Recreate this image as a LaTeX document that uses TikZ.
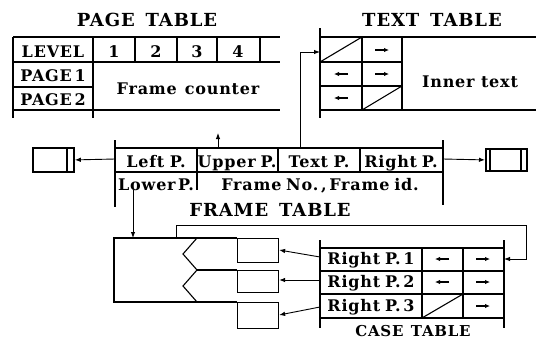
\documentclass[tikz,border=0pt]{standalone}
\usepackage{fontspec}
\setmainfont{DejaVu Serif}[LetterSpace=5]
\usetikzlibrary{arrows.meta}
\begin{document}
\begin{tikzpicture}[x=1pt,y=-1pt,
  tl/.style={line width=1.1pt},
  bl/.style={line width=2pt},
  cell/.style={font=\bfseries\fontsize{16}{16}\selectfont, inner sep=0pt, anchor=base},
  ttl/.style={font=\bfseries\fontsize{18}{18}\selectfont, inner sep=0pt, anchor=base},
  conn/.style={line width=0.9pt,-{Latex[length=6pt,width=4.5pt]}},
  carr/.style={line width=1.2pt,-{Latex[length=5pt,width=4.5pt]}},
  sbox/.style={draw,line width=1.8pt,minimum width=41pt,minimum height=23pt,inner sep=0pt,anchor=north west},
  cbox/.style={draw,line width=1.1pt,minimum width=41pt,inner sep=0pt,anchor=north west}
]
\useasboundingbox (0,0) rectangle (536,341);

% ---------------- PAGE TABLE
\node[ttl] (ptitle) at (147,26) {PAGE\hspace{0.6em}TABLE};
\draw[bl] (13,37) -- (13,118);
\draw[tl] (13,37) -- (280,37) (13,62) -- (280,62) (13,87) -- (93,87) (13,110) -- (280,110);
\draw[tl] (93,37) -- (93,118);
\foreach \x in {135,177,217,260} \draw[tl] (\x,37) -- (\x,62);
\node[cell] (level) at (53,57) {LEVEL};
\node[cell] (l1) at (114,57) {1};
\node[cell] (l2) at (156,57) {2};
\node[cell] (l3) at (197,57) {3};
\node[cell] (l4) at (238,57) {4};
\node[cell] (page1) at (53,81) {PAGE\,1};
\node[cell] (page2) at (53,105) {PAGE\,2};
\node[cell] (fcount) at (188,94) {Frame\hspace{0.5em}counter};

% ---------------- TEXT TABLE
\node[ttl] (ttitle) at (432,26) {TEXT\hspace{0.6em}TABLE};
\draw[bl] (320,28) -- (320,118);
\draw[tl] (320,37) -- (536,37) (320,110) -- (536,110);
\draw[tl] (320,62) -- (402,62) (320,86) -- (402,86);
\draw[tl] (362,37) -- (362,110) (402,37) -- (402,110);
\draw[tl] (320,62) -- (362,37);
\draw[tl] (362,110) -- (402,86);
\draw[carr] (375,50) -- (389,50);
\draw[carr] (348,74) -- (334,74);
\draw[carr] (375,74) -- (389,74);
\draw[carr] (348,98) -- (334,98);
\node[cell] (inner) at (470,87) {Inner\hspace{0.4em}text};
\coordinate (ttin) at (320,52);

% ---------------- FRAME TABLE
\draw[bl] (115,140) -- (115,207);
\draw[bl] (443,140) -- (443,205);
\draw[tl] (115,148) -- (443,148) (115,172) -- (443,172);
\draw[tl] (197,148) -- (197,190);
\draw[tl] (278,148) -- (278,172) (360,148) -- (360,172);
\node[cell] (leftP) at (156,167) {Left\hspace{0.35em}P.};
\node[cell] (upperP) at (237,167) {Upper\hspace{0.3em}P.};
\node[cell] (textP) at (319,167) {Text\hspace{0.35em}P.};
\node[cell] (rightP) at (401,167) {Right\hspace{0.3em}P.};
\node[cell] (lowerP) at (156,190) {Lower\hspace{0.15em}P.};
\node[cell] (frameno) at (320,190) {Frame\hspace{0.3em}No.\,,\,Frame\hspace{0.3em}id.};
\node[ttl] (ftitle) at (270,216) {FRAME\hspace{0.6em}TABLE};

\coordinate (ftl) at (115,159);
\coordinate (ftr) at (443,159);
\coordinate (upTop) at (218,148);
\coordinate (upEnd) at (218,133);
\coordinate (tpTop) at (300,148);
\coordinate (lpBot) at (133,190);

% side boxes
\node[sbox,minimum height=24pt] (lbox) at (32,147) {};
\draw[tl] (67,147) -- (67,171);
\node[sbox,minimum height=22pt] (rbox) at (485,148) {};
\draw[tl] (490,148) -- (490,170) (521,148) -- (521,170);

\draw[conn] (ftl) -- (lbox.east);
\draw[conn] (ftr) -- (rbox.west);
\draw[conn] (upTop) -- (upEnd);
\draw[conn] (tpTop) |- (ttin);

% ---------------- split box
\draw[tl] (197,238) -- (114,238) -- (114,302) -- (197,302);
\draw[tl] (197,238) -- (183,254) -- (197,270) -- (183,286) -- (197,302);
\draw[tl] (197,238) -- (237,238) (197,270) -- (237,270) (197,302) -- (237,302);
\node[cbox,minimum height=24pt] (b1) at (237,238) {};
\node[cbox,minimum height=22pt] (b2) at (237,270) {};
\node[cbox,minimum height=26pt] (b3) at (237,302) {};
\coordinate (sbTop) at (133,238);
\coordinate (sbFb) at (176,238);
\draw[conn] (lpBot) -- (sbTop);

% ---------------- CASE TABLE
\draw[bl] (320,240) -- (320,328);
\draw[bl] (504,240) -- (504,328);
\draw[tl] (320,248) -- (504,248) (320,271) -- (504,271) (320,294) -- (504,294) (320,318) -- (504,318);
\draw[tl] (422,248) -- (422,318) (463,248) -- (463,318);
\draw[tl] (422,318) -- (463,294);
\node[cell] (rp1) at (371,264) {Right\hspace{0.3em}P.\,1};
\node[cell] (rp2) at (371,287) {Right\hspace{0.3em}P.\,2};
\node[cell] (rp3) at (371,311) {Right\hspace{0.3em}P.\,3};
\draw[carr] (449,259) -- (435,259);
\draw[carr] (476,259) -- (490,259);
\draw[carr] (449,282) -- (435,282);
\draw[carr] (476,282) -- (490,282);
\draw[carr] (476,306) -- (490,306);
\node[ttl,font=\bfseries\fontsize{15}{15}\selectfont] (ctitle) at (413,336) {CASE\hspace{0.5em}TABLE};

\coordinate (c1) at (320,257);
\coordinate (c2) at (320,280);
\coordinate (c3) at (320,307);
\coordinate (ctR) at (504,259);
\draw[conn] (c1) -- (b1.east |- 0,250);
\draw[conn] (c2) -- (b2.east |- 0,280);
\draw[conn] (c3) -- (b3.east |- 0,315);
\draw[conn] (sbFb) -- (176,225) -- (526,225) |- (ctR);
\end{tikzpicture}
\end{document}
